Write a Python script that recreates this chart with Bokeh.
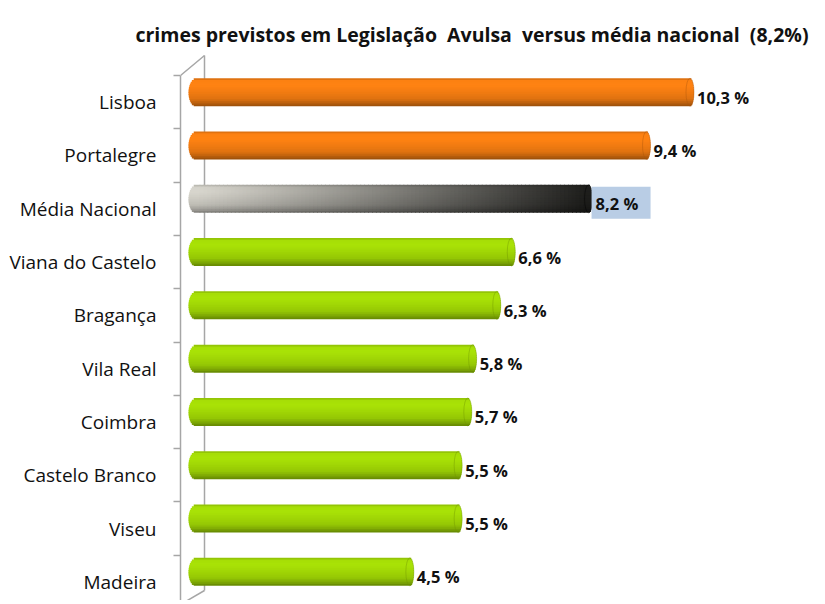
import numpy as np
from bokeh.plotting import figure
from bokeh.models import Range1d, LinearAxis, FixedTicker, ColumnDataSource
from bokeh.core.properties import value
from bokeh.embed import file_html
from bokeh.resources import INLINE

# ---------------- data ----------------
categories = ["Lisboa", "Portalegre", "Média Nacional", "Viana do Castelo", "Bragança",
              "Vila Real", "Coimbra", "Castelo Branco", "Viseu", "Madeira"]
values = [10.3, 9.4, 8.2, 6.6, 6.3, 5.8, 5.7, 5.5, 5.5, 4.5]
groups = ["acima", "acima", "nacional", "abaixo", "abaixo",
          "abaixo", "abaixo", "abaixo", "abaixo", "abaixo"]
title_text = "crimes previstos em Legislação\u00a0 Avulsa\u00a0 versus média nacional\u00a0 (8,2%)"

# ---------------- geometry / style ----------------
W, H = 825, 600
LEFT_BORDER = 180
TOP_BORDER = 54
PX_X = 48.3      # pixels per x unit
PX_Y = 53.3      # pixels per category
ZERO_PX = 196    # screen x of value 0
FRAME_W, FRAME_H = W - LEFT_BORDER, H - TOP_BORDER
x_start = (LEFT_BORDER - ZERO_PX) / PX_X
x_end = x_start + FRAME_W / PX_X
y_start = -0.5 + (608 - H) / PX_Y
y_end = y_start + FRAME_H / PX_Y

def sx(px):
    return (px - ZERO_PX) / PX_X

def sy(py):
    return -0.5 + (608 - py) / PX_Y

n = len(categories)
ypos = [n - 1 - i for i in range(n)]

p = figure(width=W, height=H, output_backend="svg", toolbar_location=None,
           x_range=Range1d(x_start, x_end), y_range=Range1d(y_start, y_end),
           x_axis_location=None, y_axis_location=None,
           min_border_left=LEFT_BORDER, min_border_right=0, min_border_top=TOP_BORDER,
           min_border_bottom=0)
p.grid.visible = False
p.outline_line_color = None
p.background_fill_color = "white"
p.border_fill_color = "white"

p.title.text = title_text
p.title.align = "right"
p.title.offset = 17
p.title.standoff = 14
p.title.text_font = "Open Sans"
p.title.text_font_style = "bold"
p.title.text_font_size = "19.5px"
p.title.text_color = "#111111"

# 3D wall (back edges)
wall_col = "#a6a6a6"
back_x = sx(204)
p.line([x_start, back_x], [9.5, sy(55)], line_color=wall_col, line_width=1.5)
p.line([back_x, back_x], [sy(55), sy(590)], line_color=wall_col, line_width=1.5)
p.line([back_x, x_start], [sy(590), sy(604)], line_color=wall_col, line_width=1.5)

# bars drawn as shaded cylinders
base = {"acima": np.array([242, 124, 18]), "abaixo": np.array([160, 214, 6])}
gray_left = np.array([205, 203, 195])
gray_right = np.array([28, 28, 26])

def shade(t):
    pts_t = [0.0, 0.08, 0.25, 0.5, 0.72, 0.88, 1.0]
    pts_m = [0.85, 1.04, 1.06, 1.0, 0.93, 0.78, 0.62]
    return np.interp(t, pts_t, pts_m)

def hexcol(c):
    c = np.clip(c, 0, 255).astype(int)
    return "#%02x%02x%02x" % tuple(c)

NS = 16
bar_h = 28 / PX_Y
bar_off = 10 / PX_Y
cap_l = 8 / PX_X
cap_r = 4 / PX_X
ov_y = 0.9 / PX_Y
ov_x = 0.9 / PX_X
L, R, T, B, C = [], [], [], [], []
for v, g, y in zip(values, groups, ypos):
    yc = y + bar_off
    for r in range(NS):
        t = (r + 0.5) / NS
        s = 2 * t - 1
        k = np.sqrt(max(0.0, 1 - s * s))
        left = -cap_l * k
        right = v - cap_r + cap_r * k
        top = yc + bar_h / 2 - r * bar_h / NS
        bot = top - bar_h / NS - (ov_y if r < NS - 1 else 0)
        m = shade(t)
        if g == "nacional":
            NC = 100
            edges = np.linspace(0, v - cap_r, NC + 1)
            for j in range(NC):
                u = (j + 0.5) / NC
                col = gray_left + (gray_right - gray_left) * (u ** 1.1)
                L.append(left if j == 0 else edges[j] - ov_x)
                R.append(right if j == NC - 1 else edges[j + 1])
                T.append(top); B.append(bot)
                C.append(hexcol(col * m))
        else:
            L.append(left); R.append(right); T.append(top); B.append(bot)
            C.append(hexcol(base[g] * m))

src = ColumnDataSource(dict(left=L, right=R, top=T, bottom=B, color=C))
p.quad(left="left", right="right", top="top", bottom="bottom", fill_color="color",
       line_color=None, source=src)

# end faces
face_col = {"acima": "#a9540a", "abaixo": "#6f9400", "nacional": "#000000"}
p.ellipse(x=[v - cap_r for v in values], y=[y + bar_off for y in ypos],
          width=8, height=28, width_units="screen", height_units="screen",
          fill_color=None, line_color=[face_col[g] for g in groups], line_alpha=0.4,
          line_width=1)

# highlight box behind national value
for v, g, y in zip(values, groups, ypos):
    if g == "nacional":
        p.quad(left=[v - 1 / PX_X], right=[v + 58 / PX_X],
               top=[y + (6 + 16) / PX_Y], bottom=[y + (6 - 16) / PX_Y],
               fill_color="#b9cde5", line_color=None)

labels = [("%.1f" % v).replace(".", ",") + " %" for v in values]
p.text(x=[v + 3 / PX_X for v in values], y=[y + 5 / PX_Y for y in ypos], text=labels,
       text_font=value("Open Sans"), text_font_style="bold", text_font_size="16.5px",
       text_baseline="middle", text_align="left", text_color="#111111")

# category axis
axis = LinearAxis(ticker=FixedTicker(ticks=ypos, minor_ticks=[k - 0.5 for k in range(n + 1)]),
                  bounds=(-0.5, 9.5))
axis.major_label_overrides = {y: c for y, c in zip(ypos, categories)}
axis.axis_line_color = wall_col
axis.axis_line_width = 1.5
axis.major_tick_out = 0
axis.major_tick_in = 0
axis.minor_tick_out = 7
axis.minor_tick_in = 0
axis.minor_tick_line_color = wall_col
axis.minor_tick_line_width = 1.5
axis.major_label_standoff = 17
axis.major_label_text_font = "Open Sans"
axis.major_label_text_font_size = "19px"
axis.major_label_text_color = "#111111"
p.add_layout(axis, "left")

open("out.html", "w").write(file_html(p, INLINE))
